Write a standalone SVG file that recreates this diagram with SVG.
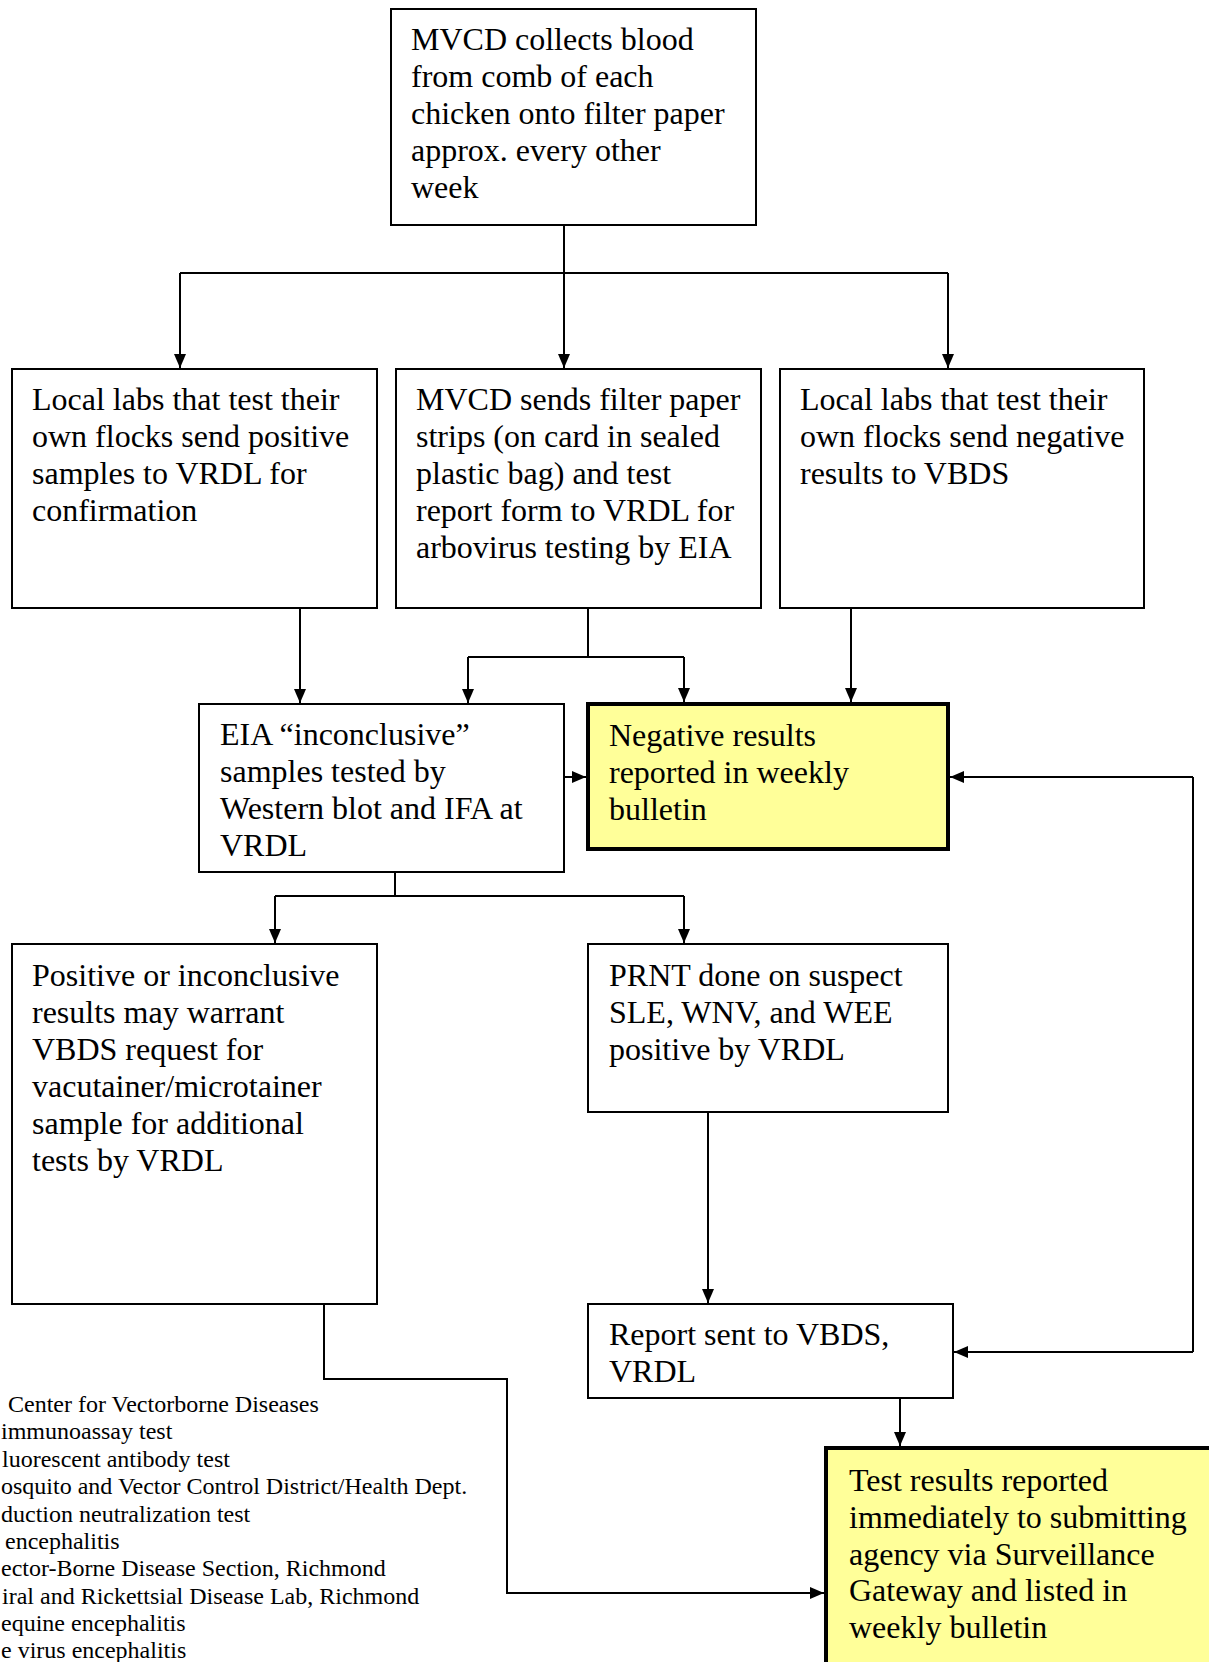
<svg xmlns="http://www.w3.org/2000/svg" width="1209" height="1662" viewBox="0 0 1209 1662">
<style>
.box{fill:#fff;stroke:#000;stroke-width:2}
.hl{fill:#ffff99;stroke:#000;stroke-width:4}
.t{font-family:"Liberation Serif","Times New Roman",serif;font-size:32px;fill:#000}
.lg{font-family:"Liberation Serif","Times New Roman",serif;font-size:24px;fill:#000}
.c{fill:none;stroke:#000;stroke-width:2}
</style>
<defs>
<marker id="ah" markerUnits="userSpaceOnUse" markerWidth="14" markerHeight="12" refX="14" refY="6" orient="auto">
<path d="M0,0 L14,6 L0,12 z" fill="#000"/>
</marker>
</defs>
<rect width="1209" height="1662" fill="#fff"/>
<g id="connectors">
<path class="c" d="M564 225 V273 M180 273 H948"/>
<path class="c" d="M180 273 V368" marker-end="url(#ah)"/>
<path class="c" d="M564 273 V368" marker-end="url(#ah)"/>
<path class="c" d="M948 273 V368" marker-end="url(#ah)"/>
<path class="c" d="M300 608 V703" marker-end="url(#ah)"/>
<path class="c" d="M588 608 V657 M468 657 H684"/>
<path class="c" d="M468 657 V703" marker-end="url(#ah)"/>
<path class="c" d="M684 657 V702" marker-end="url(#ah)"/>
<path class="c" d="M851 608 V702" marker-end="url(#ah)"/>
<path class="c" d="M564 777 H586" marker-end="url(#ah)"/>
<path class="c" d="M395 848 V896 M275 896 H684"/>
<path class="c" d="M275 896 V943" marker-end="url(#ah)"/>
<path class="c" d="M684 896 V943" marker-end="url(#ah)"/>
<path class="c" d="M708 1112 V1303" marker-end="url(#ah)"/>
<path class="c" d="M1193 777 V1352"/>
<path class="c" d="M1193 777 H950" marker-end="url(#ah)"/>
<path class="c" d="M1193 1352 H954" marker-end="url(#ah)"/>
<path class="c" d="M900 1398 V1446" marker-end="url(#ah)"/>
<path class="c" d="M324 1304 V1379 H507 V1593 H824" marker-end="url(#ah)"/>
</g>
<g id="n1">
<rect class="box" x="391" y="9" width="365" height="216"/>
<text class="t"><tspan x="411" y="50">MVCD collects blood</tspan><tspan x="411" y="87">from comb of each</tspan><tspan x="411" y="124">chicken onto filter paper</tspan><tspan x="411" y="161">approx. every other</tspan><tspan x="411" y="198">week</tspan></text>
</g>
<g id="n2">
<rect class="box" x="12" y="369" width="365" height="239"/>
<text class="t"><tspan x="32" y="410">Local labs that test their</tspan><tspan x="32" y="447">own flocks send positive</tspan><tspan x="32" y="484">samples to VRDL for</tspan><tspan x="32" y="521">confirmation</tspan></text>
</g>
<g id="n3">
<rect class="box" x="396" y="369" width="365" height="239"/>
<text class="t"><tspan x="416" y="410">MVCD sends filter paper</tspan><tspan x="416" y="447">strips (on card in sealed</tspan><tspan x="416" y="484">plastic bag) and test</tspan><tspan x="416" y="521">report form to VRDL for</tspan><tspan x="416" y="558">arbovirus testing by EIA</tspan></text>
</g>
<g id="n4">
<rect class="box" x="780" y="369" width="364" height="239"/>
<text class="t"><tspan x="800" y="410">Local labs that test their</tspan><tspan x="800" y="447">own flocks send negative</tspan><tspan x="800" y="484">results to VBDS</tspan></text>
</g>
<g id="n5">
<rect class="box" x="199" y="704" width="365" height="168"/>
<text class="t"><tspan x="220" y="745">EIA “inconclusive”</tspan><tspan x="220" y="782">samples tested by</tspan><tspan x="220" y="819">Western blot and IFA at</tspan><tspan x="220" y="856">VRDL</tspan></text>
</g>
<g id="n6">
<rect class="hl" x="588" y="704" width="360" height="145"/>
<text class="t"><tspan x="609" y="746">Negative results</tspan><tspan x="609" y="783">reported in weekly</tspan><tspan x="609" y="820">bulletin</tspan></text>
</g>
<g id="n7">
<rect class="box" x="12" y="944" width="365" height="360"/>
<text class="t"><tspan x="32" y="986">Positive or inconclusive</tspan><tspan x="32" y="1023">results may warrant</tspan><tspan x="32" y="1060">VBDS request for</tspan><tspan x="32" y="1097">vacutainer/microtainer</tspan><tspan x="32" y="1134">sample for additional</tspan><tspan x="32" y="1171">tests by VRDL</tspan></text>
</g>
<g id="n8">
<rect class="box" x="588" y="944" width="360" height="168"/>
<text class="t"><tspan x="609" y="986">PRNT done on suspect</tspan><tspan x="609" y="1023">SLE, WNV, and WEE</tspan><tspan x="609" y="1060">positive by VRDL</tspan></text>
</g>
<g id="n9">
<rect class="box" x="588" y="1304" width="365" height="94"/>
<text class="t"><tspan x="609" y="1345">Report sent to VBDS,</tspan><tspan x="609" y="1382">VRDL</tspan></text>
</g>
<g id="n10">
<rect class="hl" x="826" y="1448" width="420" height="260"/>
<text class="t"><tspan x="849" y="1491">Test results reported</tspan><tspan x="849" y="1528">immediately to submitting</tspan><tspan x="849" y="1565">agency via Surveillance</tspan><tspan x="849" y="1601">Gateway and listed in</tspan><tspan x="849" y="1638">weekly bulletin</tspan></text>
</g>
<g id="legend">
<text class="lg" x="8" y="1412">Center for Vectorborne Diseases</text>
<text class="lg" x="1" y="1439">immunoassay test</text>
<text class="lg" x="2" y="1467">luorescent antibody test</text>
<text class="lg" x="1" y="1494">osquito and Vector Control District/Health Dept.</text>
<text class="lg" x="1" y="1522">duction neutralization test</text>
<text class="lg" x="5" y="1549">encephalitis</text>
<text class="lg" x="1" y="1576">ector-Borne Disease Section, Richmond</text>
<text class="lg" x="2" y="1604">iral and Rickettsial Disease Lab, Richmond</text>
<text class="lg" x="1" y="1631">equine encephalitis</text>
<text class="lg" x="1" y="1658">e virus encephalitis</text>
</g>
</svg>
